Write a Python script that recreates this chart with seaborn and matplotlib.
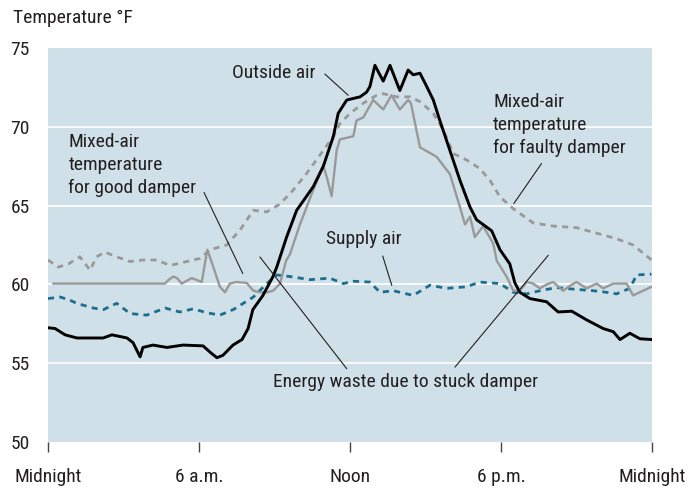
import numpy as np
import pandas as pd
import matplotlib
matplotlib.use("Agg")
import matplotlib.pyplot as plt
from matplotlib import font_manager
import seaborn as sns

# hours after midnight / temperature in F
outside_h = [0.0, 0.28, 0.68, 1.15, 2.19, 2.54, 3.14, 3.38, 3.66, 3.77, 4.17, 4.73,
             5.36, 6.16, 6.44, 6.71, 6.95, 7.35, 7.71, 7.95, 8.14, 8.54, 8.94, 9.09,
             9.48, 9.88, 10.54, 10.94, 11.34, 11.53, 11.87, 12.40, 12.66, 12.79, 12.99,
             13.32, 13.59, 13.98, 14.31, 14.51, 14.78, 15.05, 15.31, 15.57, 15.97, 16.37,
             16.77, 17.03, 17.29, 17.63, 17.96, 18.35, 18.55, 18.75, 19.15, 19.81, 20.27,
             20.81, 21.40, 22.06, 22.46, 22.73, 23.12, 23.52, 24.0]
outside_t = [57.25, 57.2, 56.8, 56.6, 56.6, 56.8, 56.6, 56.3, 55.4, 56.0, 56.15, 56.0,
             56.15, 56.1, 55.7, 55.35, 55.5, 56.15, 56.5, 57.2, 58.4, 59.3, 60.5, 61.1,
             63.0, 64.7, 66.2, 67.5, 69.4, 70.85, 71.7, 71.9, 72.2, 72.55, 73.9,
             72.9, 73.9, 72.3, 73.6, 73.3, 73.4, 72.55, 71.7, 70.4, 68.5, 66.6,
             64.9, 64.1, 63.8, 63.4, 62.2, 61.3, 60.1, 59.5, 59.1, 58.9, 58.25,
             58.3, 57.75, 57.2, 57.0, 56.5, 56.9, 56.55, 56.5]

good_h = [0.2, 4.65, 4.8, 4.98, 5.13, 5.31, 5.48, 5.71, 5.88, 6.11, 6.33, 6.57, 6.83,
          7.03, 7.23, 7.47, 7.89, 8.16, 8.42, 8.70, 8.95, 9.22, 9.46, 9.61, 10.01,
          10.54, 10.94, 11.08, 11.27, 11.47, 11.60, 12.13, 12.26, 12.53, 12.92, 13.32,
          13.65, 13.98, 14.31, 14.42, 14.78, 15.44, 15.97, 16.37, 16.57, 16.77, 16.96,
          17.29, 17.69, 17.83, 18.22, 18.49, 18.75, 19.02, 19.28, 19.54, 19.82, 20.07,
          20.47, 20.73, 21.00, 21.40, 21.80, 22.06, 22.46, 22.99, 23.25, 23.98]
good_t = [60.05, 60.05, 60.3, 60.5, 60.4, 60.05, 60.2, 60.4, 60.3, 60.15, 62.2, 61.1, 59.85,
          59.5, 60.05, 60.15, 60.1, 59.6, 59.5, 59.5, 59.6, 60.05, 61.5, 61.9, 63.8,
          66.0, 67.5, 66.8, 65.6, 68.5, 69.2, 69.4, 70.4, 70.6, 71.7, 71.1,
          72.0, 71.1, 71.7, 71.5, 68.7, 68.1, 67.0, 64.9, 63.8, 64.3, 63.0,
          63.7, 62.6, 61.5, 60.5, 59.6, 59.6, 60.15, 60.05, 59.75, 60.0, 60.15,
          59.6, 59.9, 60.15, 59.75, 60.05, 59.75, 60.05, 60.05, 59.3, 59.85]

faulty_h = [0.0, 0.41, 0.81, 1.27, 1.67, 1.93, 2.26, 2.73, 3.26, 3.79, 4.32, 4.85, 5.51,
            6.04, 6.44, 7.10, 7.63, 8.16, 8.69, 9.22, 9.75, 10.28, 10.94, 11.34, 11.60,
            12.0, 12.53, 13.06, 13.32, 13.85, 14.38, 14.78, 15.31, 15.71, 16.10, 16.63,
            17.16, 17.56, 17.96, 18.49, 19.28, 20.07, 21.00, 21.80, 22.59, 23.25, 23.98]
faulty_t = [61.55, 61.1, 61.3, 61.75, 60.9, 61.75, 62.05, 61.75, 61.45, 61.55, 61.55, 61.2, 61.45,
            61.65, 62.2, 62.5, 63.45, 64.7, 64.6, 65.1, 66.0, 67.05, 68.5, 69.4, 70.2,
            70.85, 71.5, 72.0, 72.1, 71.9, 71.9, 71.6, 70.85, 69.8, 68.3, 67.9,
            67.35, 66.6, 65.55, 64.8, 63.9, 63.7, 63.6, 63.25, 62.9, 62.5, 61.55]

supply_h = [0.0, 0.48, 0.87, 1.14, 1.80, 2.20, 2.73, 3.26, 3.92, 4.65, 5.24, 5.77, 6.31,
            6.83, 7.36, 8.16, 8.69, 9.09, 9.61, 10.41, 11.20, 11.73, 12.13, 12.79, 13.19,
            13.72, 14.51, 15.18, 15.84, 16.63, 17.16, 17.96, 18.49, 19.02, 19.55, 20.21,
            20.87, 21.66, 22.19, 22.59, 23.12, 23.39, 23.98]
supply_t = [59.1, 59.2, 59.0, 58.8, 58.5, 58.4, 58.8, 58.15, 58.05, 58.5, 58.25, 58.45, 58.2,
            58.05, 58.4, 59.2, 60.05, 60.6, 60.5, 60.3, 60.4, 60.05, 60.2, 60.15, 59.5,
            59.6, 59.3, 59.95, 59.75, 59.85, 60.15, 60.05, 59.5, 59.4, 59.6, 59.8,
            59.7, 59.6, 59.5, 59.4, 59.75, 60.6, 60.65]

x_ticks = [0, 6, 12, 18, 24]
x_labels = ["Midnight", "6 a.m.", "Noon", "6 p.m.", "Midnight"]
y_ticks = [50, 55, 60, 65, 70, 75]

bg = "#d0e0e8"
grey = "#999999"
teal = "#1b6e8e"
ink = "#231f20"

sns.set_theme(style="white")

# the original uses a condensed face; take one if the machine has it
installed = {f.name for f in font_manager.fontManager.ttflist}
if "Roboto Condensed" in installed:
    plt.rcParams["font.family"] = ["Roboto Condensed", "DejaVu Sans"]
    fs = 14
elif "DejaVu Sans Condensed" in installed:
    plt.rcParams["font.family"] = ["DejaVu Sans Condensed", "DejaVu Sans"]
    fs = 12.3
else:
    plt.rcParams["font.family"] = ["Liberation Sans", "DejaVu Sans"]
    fs = 12.5

fig = plt.figure(figsize=(6.92, 4.88), dpi=100)
ax = fig.add_axes([48 / 692, 46 / 488, 604 / 692, 394 / 488])
ax.set_facecolor(bg)

for g in [55, 60, 65, 70]:
    ax.axhline(g, color="white", lw=1.2, zorder=1)

sns.lineplot(x=faulty_h, y=faulty_t, ax=ax, color=grey, lw=2.0,
             linestyle=(0, (2.2, 1.9)), zorder=3)
sns.lineplot(x=supply_h, y=supply_t, ax=ax, color=teal, lw=2.0,
             linestyle=(0, (2.2, 1.9)), zorder=3)
sns.lineplot(x=good_h, y=good_t, ax=ax, color=grey, lw=1.7, zorder=4,
             solid_joinstyle="round")
sns.lineplot(x=outside_h, y=outside_t, ax=ax, color="black", lw=2.1, zorder=5,
             solid_joinstyle="round")

ax.set_xlim(0, 24)
ax.set_ylim(50, 75)
ax.set_xticks(x_ticks)
ax.set_xticklabels(x_labels)
ax.set_yticks(y_ticks)
ax.set_xlabel("")
ax.set_ylabel("")
for s in ax.spines.values():
    s.set_visible(False)
ax.tick_params(axis="x", direction="out", length=7, width=1, color="#444444",
               pad=12, labelsize=fs, labelcolor=ink, bottom=True)
ax.tick_params(axis="y", length=0, pad=13, labelsize=fs, labelcolor=ink)

fig.text(13 / 692, 1 - 18 / 488, "Temperature °F", fontsize=fs, color=ink,
         ha="left", va="center")

# annotations
lk = dict(color=ink, lw=0.8, zorder=6)
ax.text(10.61, 73.44, "Outside air", fontsize=fs, color=ink, ha="right", va="center")
ax.plot([11.0, 11.93], [73.35, 72.0], **lk)

ax.text(0.81, 67.6, "Mixed-air\ntemperature\nfor good damper", fontsize=fs, color=ink,
        ha="left", va="center", linespacing=1.36)
ax.plot([6.20, 7.74], [65.83, 60.69], **lk)

ax.text(11.04, 62.87, "Supply air", fontsize=fs, color=ink, ha="left", va="center")
ax.plot([13.30, 13.66], [61.8, 59.94], **lk)

ax.text(17.69, 70.1, "Mixed-air\ntemperature\nfor faulty damper", fontsize=fs, color=ink,
        ha="left", va="center", linespacing=1.36)
ax.plot([19.61, 18.51], [67.67, 65.13], **lk)

ax.text(8.93, 53.78, "Energy waste due to stuck damper", fontsize=fs, color=ink,
        ha="left", va="center")
ax.plot([8.42, 11.87], [61.74, 54.65], **lk)
ax.plot([16.17, 19.88], [54.75, 61.85], **lk)

fig.savefig("out.png", dpi=100, facecolor="white")
